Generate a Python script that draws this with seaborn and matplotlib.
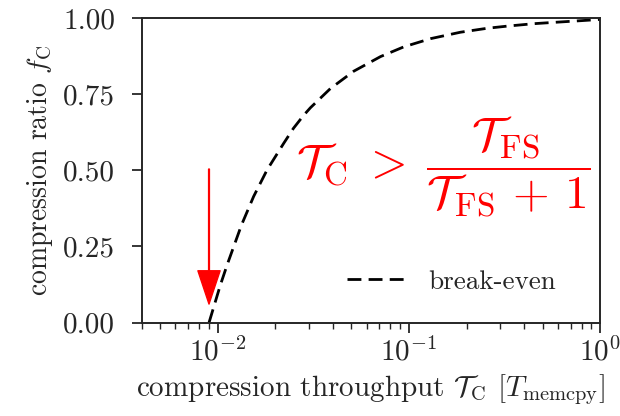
import matplotlib
matplotlib.use("Agg")
import matplotlib.pyplot as plt
import seaborn as sns
import pandas as pd

# break-even curve
throughput = [0.009, 0.0103, 0.0112, 0.0133, 0.0154, 0.0181, 0.0221, 0.0249,
              0.0281, 0.0305, 0.0388, 0.0514, 0.071, 0.094, 0.130, 0.186,
              0.257, 0.327, 0.45, 0.597, 0.8, 1.0]
ratio = [0.0, 0.122, 0.19, 0.32, 0.414, 0.501, 0.588, 0.638,
         0.68, 0.705, 0.768, 0.825, 0.873, 0.905, 0.932, 0.953,
         0.966, 0.973, 0.981, 0.986, 0.991, 0.995]
arrow_x = 0.009
arrow_y = (0.504, 0.061)

sns.set_style("ticks")
plt.rcParams['font.family'] = ['cmr10']
plt.rcParams['mathtext.fontset'] = 'cm'
plt.rcParams['axes.formatter.use_mathtext'] = True

df = pd.DataFrame({'x': throughput, 'y': ratio})

fig = plt.figure(figsize=(6.2, 4.16), dpi=100)
ax = fig.add_axes([0.2285, 0.2243, 0.7395, 0.7327])

sns.lineplot(data=df, x='x', y='y', ax=ax, color='black', lw=2.0,
             label='break-even')
ax.lines[0].set_dashes([5, 2.6])

ax.set_xscale('log')
ax.set_xlim(0.004, 1.0)
ax.set_ylim(0, 1.0)
ax.set_yticks([0, 0.25, 0.5, 0.75, 1.0])
ax.set_yticklabels(['0.00', '0.25', '0.50', '0.75', '1.00'])

for s in ax.spines.values():
    s.set_linewidth(1.4)
ax.tick_params(which='major', length=7, width=1.3, labelsize=21)
ax.tick_params(which='minor', length=4.5, width=1.0)
ax.tick_params(axis='y', which='major', pad=12)

ax.set_xlabel(r'compression throughput $\mathcal{T}_\mathrm{C}$ $[T_\mathrm{memcpy}]$',
              fontsize=21, labelpad=4)
ax.set_ylabel(r'compression ratio $f_\mathrm{C}$', fontsize=20, labelpad=6)

ax.annotate('', xy=(arrow_x, arrow_y[1]), xytext=(arrow_x, arrow_y[0]),
            arrowprops=dict(color='red', width=0.6, headwidth=16,
                            headlength=24, shrink=0))

ax.text(0.657, 0.515,
        r'$\mathcal{T}_\mathrm{C}\;>\;\dfrac{\mathcal{T}_\mathrm{FS}}{\mathcal{T}_\mathrm{FS}\,+\,1}$',
        transform=ax.transAxes, color='red', fontsize=34,
        ha='center', va='center')

ax.legend(loc='center left', bbox_to_anchor=(0.448, 0.134), frameon=False,
          fontsize=19.5, borderpad=0, borderaxespad=0, handlelength=2.1,
          handletextpad=0.9)

fig.savefig('out.png', dpi=100)
